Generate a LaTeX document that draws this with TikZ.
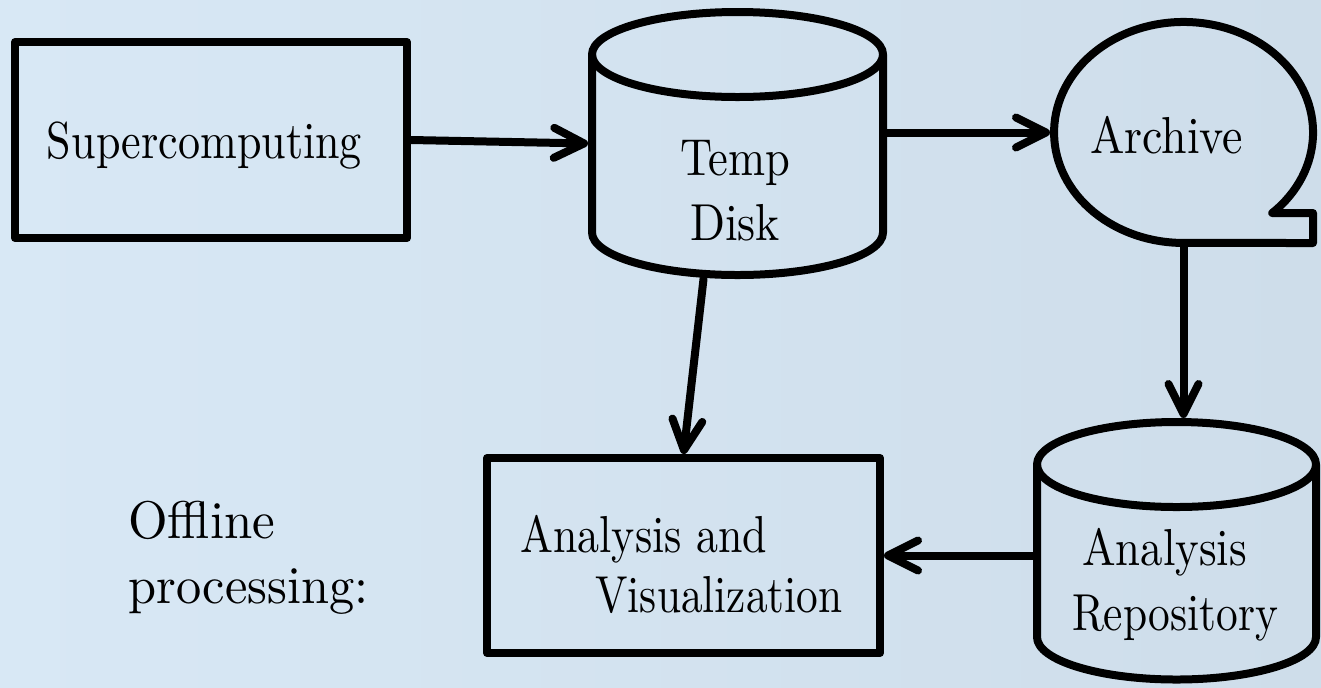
\documentclass[tikz,border=0pt]{standalone}
\usepackage{fontspec}
\usepackage{graphicx}
\IfFontExistsTF{lmroman10-regular.otf}{\setmainfont{lmroman10-regular.otf}}{\setmainfont{Latin Modern Roman}}
\newcommand{\fitw}[2]{\resizebox{#1}{\height}{#2}}
\usetikzlibrary{arrows.meta,shapes.geometric}
\definecolor{bgl}{RGB}{216,232,245}
\definecolor{bgr}{RGB}{206,221,234}
\begin{document}
\begin{tikzpicture}[x=0.5pt,y=-0.5pt,
  shapeline/.style={line width=4pt, line join=round, line cap=round, draw=black},
  boxnode/.style={rectangle, draw=black, line width=4pt, line join=round, inner sep=0pt, outer sep=2pt},
  hidden/.style={rectangle, draw=none, inner sep=0pt, outer sep=2pt},
  flow/.style={line width=4pt, line cap=round, -{Straight Barb[round,length=15pt,width=15pt]}},
  lbl/.style={anchor=base, inner sep=0pt, font=\rmfamily\fontsize{26pt}{32pt}\selectfont},
  lblw/.style={anchor=base west, inner sep=0pt, font=\rmfamily\fontsize{26.5pt}{32pt}\selectfont}
]
\fill[left color=bgl, right color=bgr] (0,0) rectangle (1321,687);
\useasboundingbox (0,0) rectangle (1321,687);

% Supercomputing
\node[boxnode, minimum width=196pt, minimum height=98pt] (sc) at (211,140) {};
\node[lbl] (sctext) at (204.5,158) {\fitw{157.5pt}{Supercomputing}};

% Temp disk
\node[hidden, minimum width=145.5pt, minimum height=131.5pt] (temp) at (737.5,143.5) {};
\draw[shapeline] (592,54.5) -- (592,232.5) arc[start angle=180,end angle=360,x radius=72.75pt,y radius=21.25pt] -- (883,54.5);
\draw[shapeline] (737.5,54.5) ellipse[x radius=72.75pt,y radius=21.25pt];
\node[lbl] (temp1) at (735,175) {\fitw{55pt}{Temp}};
\node[lbl] (temp2) at (735,240) {\fitw{45pt}{Disk}};

% Archive (tape)
\node[hidden, ellipse, minimum width=129.5pt, minimum height=110.5pt] (arch) at (1183.5,132.5) {};
\draw[shapeline] (1272.2,213) arc[start angle=-46.8,end angle=270,x radius=64.75pt,y radius=55.25pt] -- (1313,243) -- (1313,213) -- cycle;
\node[lbl] (archtext) at (1166.5,153) {\fitw{76.5pt}{Archive}};

% Analysis Repository
\node[hidden, minimum width=139.5pt, minimum height=128.75pt] (ar) at (1176.5,550.75) {};
\draw[shapeline] (1037,464.5) -- (1037,637) arc[start angle=180,end angle=360,x radius=69.75pt,y radius=21.25pt] -- (1316,464.5);
\draw[shapeline] (1176.5,464.5) ellipse[x radius=69.75pt,y radius=21.25pt];
\node[lbl] (ar1) at (1164.5,565) {\fitw{82.5pt}{Analysis}};
\node[lbl] (ar2) at (1175,630) {\fitw{103pt}{Repository}};

% Analysis and Visualization
\node[boxnode, minimum width=196.5pt, minimum height=97.5pt] (av) at (683.5,555.5) {};
\node[lbl, anchor=base west] (av1) at (520,552) {\fitw{123.5pt}{Analysis and}};
\node[lbl, anchor=base west] (av2) at (595,612) {\fitw{123.5pt}{Visualization}};

% Offline processing
\node[lblw] (off1) at (128,538) {\fitw{73.5pt}{Offline}};
\node[lblw] (off2) at (128,603) {\fitw{120pt}{processing:}};

% connectors
\draw[flow] (sc.east) -- (temp.west);
\draw[flow] (temp.east |- arch.west) -- (arch.west);
\draw[flow] (arch.south) -- (arch.south |- ar.north);
\draw[flow] ([xshift=-17pt]temp.south) -- (av.north);
\draw[flow] (ar.west |- av.east) -- (av.east);
\end{tikzpicture}
\end{document}
